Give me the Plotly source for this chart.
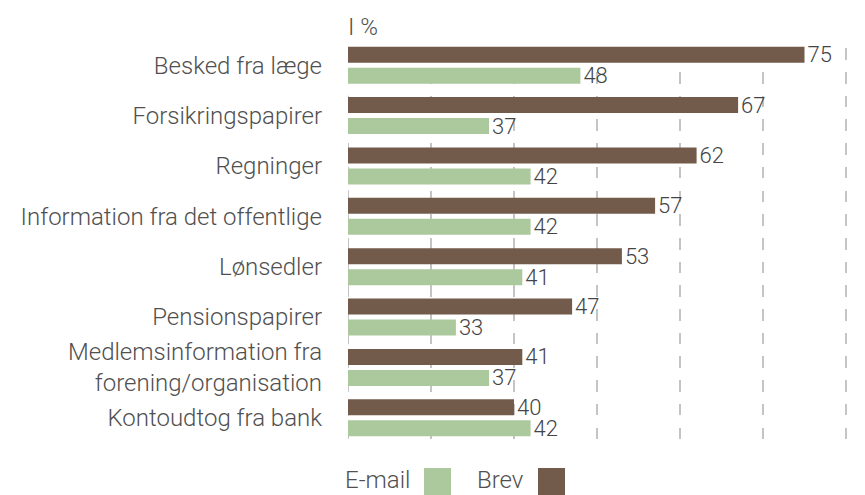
import plotly.graph_objects as go

categories = [
    "Besked fra læge",
    "Forsikringspapirer",
    "Regninger",
    "Information fra det offentlige",
    "Lønsedler",
    "Pensionspapirer",
    "Medlemsinformation fra<br>forening/organisation",
    "Kontoudtog fra bank",
]
brev = [75, 67, 62, 57, 53, 47, 41, 40]
email = [48, 37, 42, 42, 41, 33, 37, 42]

BROWN = "#735B4B"
GREEN = "#ABC99C"
TEXT = "#505050"
GRID = "#C4C4C4"
DASH = "0px,8.3px,11.6px,3.8px"
FONT = "Roboto"
FS = 24      # category labels, legend
FS_VAL = 22  # bar value labels

# the page body adds an 8px offset, so the figure is 8px smaller
W, H = 857, 487
L, R, T, B = 340, 16, 32, 52
PW, PH = W - L - R, H - T - B
X_MIN = 20
X_MAX = X_MIN + PW * 60 / 498  # 60 units over 498px, a little room for the last gridline

fig = go.Figure()

fig.add_trace(go.Bar(
    y=categories, x=brev, name="Brev", orientation="h",
    marker_color=BROWN, marker_line_width=0,
    text=brev, textposition="outside", cliponaxis=False,
    textfont=dict(size=FS_VAL, color="#444444", family=FONT, weight=300),
))
fig.add_trace(go.Bar(
    y=categories, x=email, name="E-mail", orientation="h",
    marker_color=GREEN, marker_line_width=0,
    text=email, textposition="outside", cliponaxis=False,
    textfont=dict(size=FS_VAL, color="#444444", family=FONT, weight=300),
))

fig.update_layout(
    width=W, height=H,
    margin=dict(l=L, r=R, t=T, b=B),
    barmode="group",
    bargap=0.165,
    bargroupgap=0.238,
    showlegend=False,
    plot_bgcolor="white",
    paper_bgcolor="white",
    font=dict(family=FONT, size=FS, color=TEXT, weight=300),
    uniformtext=dict(minsize=FS_VAL, mode="show"),
)

fig.update_xaxes(
    range=[X_MIN, X_MAX], dtick=10, tick0=20,
    showticklabels=False, showline=False, zeroline=False,
    showgrid=True, gridcolor=GRID, gridwidth=2,
    griddash=DASH, automargin=False,
)
fig.update_yaxes(
    range=[7.5, -0.5], showgrid=False, showline=False, zeroline=False,
    ticks="", ticklabelstandoff=25, automargin=False,
    tickfont=dict(size=FS, color=TEXT, family=FONT, weight=300),
)

# gridline on the left edge (plotly drops it at the range start)
fig.add_shape(
    type="line", xref="x", yref="paper", x0=X_MIN, x1=X_MIN, y0=1, y1=0,
    line=dict(color=GRID, width=2, dash=DASH), layer="below",
)

# "I %" unit label above the plot
fig.add_annotation(
    text="I %", xref="paper", yref="paper", x=0, y=1,
    xanchor="left", yanchor="bottom", yshift=-3, xshift=-2, showarrow=False,
    font=dict(size=FS, color=TEXT, family=FONT, weight=300),
)

# custom legend: text followed by a colour square
for label, color, tx, sx in [("E-mail", GREEN, 335, 416), ("Brev", BROWN, 467, 530)]:
    fig.add_annotation(
        text=label, xref="paper", yref="paper",
        x=(tx - L) / PW, y=(T + PH - 472) / PH,
        xanchor="left", yanchor="middle", showarrow=False,
        font=dict(size=FS, color=TEXT, family=FONT, weight=300),
    )
    fig.add_shape(
        type="rect", xref="paper", yref="paper",
        x0=(sx - L) / PW, x1=(sx + 27 - L) / PW,
        y0=(T + PH - 487) / PH, y1=(T + PH - 460) / PH,
        fillcolor=color, line_width=0,
    )

fig.write_html("out.html")
